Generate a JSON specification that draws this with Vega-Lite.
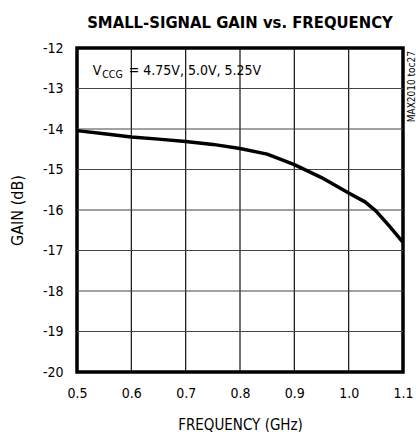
{
  "$schema": "https://vega.github.io/schema/vega-lite/v6.json",
  "width": 326,
  "height": 324,
  "autosize": "none",
  "padding": {"left": 77, "top": 48, "right": 13, "bottom": 60},
  "background": "white",
  "config": {
    "view": {"stroke": "black", "strokeWidth": 3.5},
    "font": "DejaVu Sans Condensed"
  },
  "title": {
    "text": "SMALL-SIGNAL GAIN vs. FREQUENCY",
    "font": "DejaVu Sans Condensed",
    "fontWeight": "bold",
    "fontSize": 16.5,
    "color": "black",
    "anchor": "middle",
    "offset": 10
  },
  "data": {
    "values": [
      {"freq": 0.5, "gain": -14.04},
      {"freq": 0.55, "gain": -14.12},
      {"freq": 0.6, "gain": -14.2},
      {"freq": 0.65, "gain": -14.25},
      {"freq": 0.7, "gain": -14.31},
      {"freq": 0.75, "gain": -14.38},
      {"freq": 0.8, "gain": -14.48},
      {"freq": 0.85, "gain": -14.62},
      {"freq": 0.9, "gain": -14.88},
      {"freq": 0.95, "gain": -15.2},
      {"freq": 1.0, "gain": -15.58},
      {"freq": 1.03, "gain": -15.8},
      {"freq": 1.05, "gain": -16.02},
      {"freq": 1.075, "gain": -16.4},
      {"freq": 1.1, "gain": -16.8}
    ]
  },
  "encoding": {
    "x": {
      "field": "freq", "type": "quantitative",
      "scale": {"domain": [0.5, 1.1], "nice": false, "zero": false},
      "axis": {
        "values": [0.5, 0.6, 0.7, 0.8, 0.9, 1.0, 1.1],
        "format": ".1f",
        "title": "FREQUENCY (GHz)",
        "titleFont": "DejaVu Sans Condensed",
        "titleFontWeight": "normal",
        "titleFontSize": 15,
        "titleColor": "black",
        "titlePadding": 17,
        "labelFont": "DejaVu Sans Condensed",
        "labelFontSize": 14,
        "labelColor": "black",
        "labelPadding": 14,
        "labelFlush": false,
        "ticks": false,
        "domain": false,
        "grid": false
      }
    },
    "y": {
      "field": "gain", "type": "quantitative",
      "scale": {"domain": [-20, -12], "nice": false, "zero": false},
      "axis": {
        "values": [-20, -19, -18, -17, -16, -15, -14, -13, -12],
        "labelExpr": "'' + datum.value",
        "title": "GAIN (dB)",
        "titleFont": "DejaVu Sans Condensed",
        "titleFontWeight": "normal",
        "titleFontSize": 16,
        "titleColor": "black",
        "titlePadding": 17,
        "labelFont": "DejaVu Sans Condensed",
        "labelFontSize": 14,
        "labelColor": "black",
        "labelPadding": 14,
        "labelFlush": false,
        "ticks": false,
        "domain": false,
        "grid": false
      }
    }
  },
  "layer": [
    {
      "data": {"values": [
        {"id": "v1", "freq": 0.6, "gain": -20}, {"id": "v1", "freq": 0.6, "gain": -12},
        {"id": "v2", "freq": 0.7, "gain": -20}, {"id": "v2", "freq": 0.7, "gain": -12},
        {"id": "v3", "freq": 0.8, "gain": -20}, {"id": "v3", "freq": 0.8, "gain": -12},
        {"id": "v4", "freq": 0.9, "gain": -20}, {"id": "v4", "freq": 0.9, "gain": -12},
        {"id": "v5", "freq": 1.0, "gain": -20}, {"id": "v5", "freq": 1.0, "gain": -12}
      ]},
      "mark": {"type": "line", "color": "#111", "strokeWidth": 1.2},
      "encoding": {"detail": {"field": "id", "type": "nominal"}}
    },
    {
      "data": {"values": [
        {"id": "h13", "freq": 0.5, "gain": -13}, {"id": "h13", "freq": 1.1, "gain": -13},
        {"id": "h14", "freq": 0.5, "gain": -14}, {"id": "h14", "freq": 1.1, "gain": -14},
        {"id": "h15", "freq": 0.5, "gain": -15}, {"id": "h15", "freq": 1.1, "gain": -15},
        {"id": "h16", "freq": 0.5, "gain": -16}, {"id": "h16", "freq": 1.1, "gain": -16},
        {"id": "h17", "freq": 0.5, "gain": -17}, {"id": "h17", "freq": 1.1, "gain": -17},
        {"id": "h18", "freq": 0.5, "gain": -18}, {"id": "h18", "freq": 1.1, "gain": -18},
        {"id": "h19", "freq": 0.5, "gain": -19}, {"id": "h19", "freq": 1.1, "gain": -19}
      ]},
      "mark": {"type": "line", "color": "#444", "strokeWidth": 1.2},
      "encoding": {"detail": {"field": "id", "type": "nominal"}}
    },
    {
      "mark": {"type": "line", "color": "black", "strokeWidth": 3.5, "strokeJoin": "round"},
      "encoding": {}
    },
    {
      "data": {"values": [{"freq": 0.529, "gain": -12.667, "t": "V"}]},
      "mark": {"type": "text", "font": "DejaVu Sans Condensed", "fontSize": 14, "align": "left", "baseline": "alphabetic", "color": "black"},
      "encoding": {"text": {"field": "t"}}
    },
    {
      "data": {"values": [{"freq": 0.529, "gain": -12.667, "t": "CCG"}]},
      "mark": {"type": "text", "font": "DejaVu Sans Condensed", "fontSize": 10.5, "align": "left", "baseline": "alphabetic", "color": "black", "dx": 9.5, "dy": 3},
      "encoding": {"text": {"field": "t"}}
    },
    {
      "data": {"values": [{"freq": 0.529, "gain": -12.667, "t": "= 4.75V, 5.0V, 5.25V"}]},
      "mark": {"type": "text", "font": "DejaVu Sans Condensed", "fontSize": 14, "align": "left", "baseline": "alphabetic", "color": "black", "dx": 36},
      "encoding": {"text": {"field": "t"}}
    },
    {
      "data": {"values": [{"freq": 1.1, "gain": -12, "t": "MAX2010 toc27"}]},
      "mark": {"type": "text", "font": "DejaVu Sans Condensed", "fontSize": 10, "angle": 270, "align": "right", "baseline": "middle", "color": "black", "dx": -3, "dy": 9},
      "encoding": {"text": {"field": "t"}}
    }
  ]
}
